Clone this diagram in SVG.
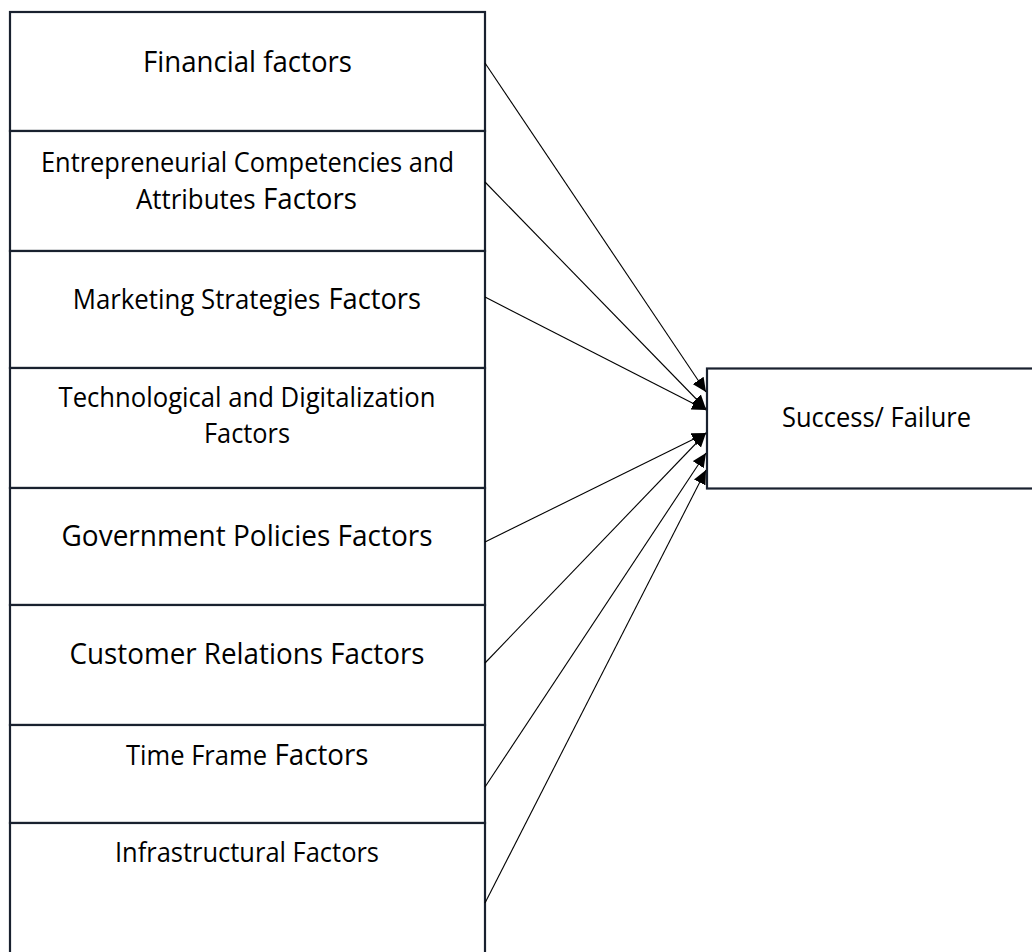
<svg xmlns="http://www.w3.org/2000/svg" width="1032" height="952" viewBox="0 0 1032 952">
  <style>
    .box { fill: #ffffff; stroke: #19212f; stroke-width: 2.2; }
    .lbl { font-family: "Open Sans", "Noto Sans", "Liberation Sans", sans-serif; fill: #000000; text-anchor: middle; }
    .st { text-anchor: start; }
    .s11 { font-size: 27px; }
    .s12 { font-size: 29.5px; }
    .link { stroke: #000000; stroke-width: 1.1; fill: none; marker-end: url(#head); }
  </style>
  <defs>
    <marker id="head" markerUnits="userSpaceOnUse" markerWidth="15" markerHeight="14" refX="14" refY="7" orient="auto">
      <path d="M0,0.5 L14,7 L0,13.5 Z" fill="#000000"/>
    </marker>
  </defs>
  <rect width="1032" height="952" fill="#ffffff"/>

  <!-- factor column -->
  <g id="financial">
    <rect class="box" x="10" y="12" width="475" height="119"/>
    <text class="lbl s12" x="247.5" y="72" textLength="209" lengthAdjust="spacingAndGlyphs">Financial factors</text>
  </g>
  <g id="entrepreneurial">
    <rect class="box" x="10" y="131" width="475" height="120"/>
    <text class="lbl s11" x="247.5" y="172" textLength="413" lengthAdjust="spacingAndGlyphs">Entrepreneurial Competencies and</text>
    <text class="lbl st s11" x="136" y="209" textLength="119.5" lengthAdjust="spacingAndGlyphs">Attributes</text>
    <text class="lbl st s12" x="263" y="209" textLength="94" lengthAdjust="spacingAndGlyphs">Factors</text>
  </g>
  <g id="marketing">
    <rect class="box" x="10" y="251" width="475" height="117"/>
    <text class="lbl st s11" x="72.7" y="309" textLength="247.5" lengthAdjust="spacingAndGlyphs">Marketing Strategies</text>
    <text class="lbl st s12" x="328.5" y="309" textLength="92.5" lengthAdjust="spacingAndGlyphs">Factors</text>
  </g>
  <g id="technological">
    <rect class="box" x="10" y="368" width="475" height="120"/>
    <text class="lbl s11" x="247" y="407" textLength="377" lengthAdjust="spacingAndGlyphs">Technological and Digitalization</text>
    <text class="lbl s11" x="247" y="443" textLength="86" lengthAdjust="spacingAndGlyphs">Factors</text>
  </g>
  <g id="government">
    <rect class="box" x="10" y="488" width="475" height="117"/>
    <text class="lbl s12" x="247" y="546" textLength="371" lengthAdjust="spacingAndGlyphs">Government Policies Factors</text>
  </g>
  <g id="customer">
    <rect class="box" x="10" y="605" width="475" height="120"/>
    <text class="lbl s12" x="247" y="664" textLength="355" lengthAdjust="spacingAndGlyphs">Customer Relations Factors</text>
  </g>
  <g id="timeframe">
    <rect class="box" x="10" y="725" width="475" height="98"/>
    <text class="lbl st s11" x="126" y="765" textLength="141" lengthAdjust="spacingAndGlyphs">Time Frame</text>
    <text class="lbl st s12" x="274.5" y="765" textLength="94" lengthAdjust="spacingAndGlyphs">Factors</text>
  </g>
  <g id="infrastructural">
    <rect class="box" x="10" y="823" width="475" height="145"/>
    <text class="lbl s11" x="247" y="862" textLength="264" lengthAdjust="spacingAndGlyphs">Infrastructural Factors</text>
  </g>

  <!-- outcome -->
  <g id="outcome">
    <rect class="box" x="707" y="368.5" width="340" height="120"/>
    <text class="lbl s11" x="876.5" y="427" textLength="189" lengthAdjust="spacingAndGlyphs">Success/ Failure</text>
  </g>

  <!-- connectors -->
  <g id="connectors">
    <line class="link" x1="485" y1="63" x2="706" y2="392"/>
    <line class="link" x1="485" y1="182" x2="706" y2="409"/>
    <line class="link" x1="485" y1="297" x2="706" y2="410"/>
    <line class="link" x1="485" y1="542" x2="706" y2="433"/>
    <line class="link" x1="485" y1="663" x2="706" y2="433"/>
    <line class="link" x1="485" y1="787" x2="706" y2="453"/>
    <line class="link" x1="485" y1="903" x2="706" y2="470"/>
  </g>
</svg>
